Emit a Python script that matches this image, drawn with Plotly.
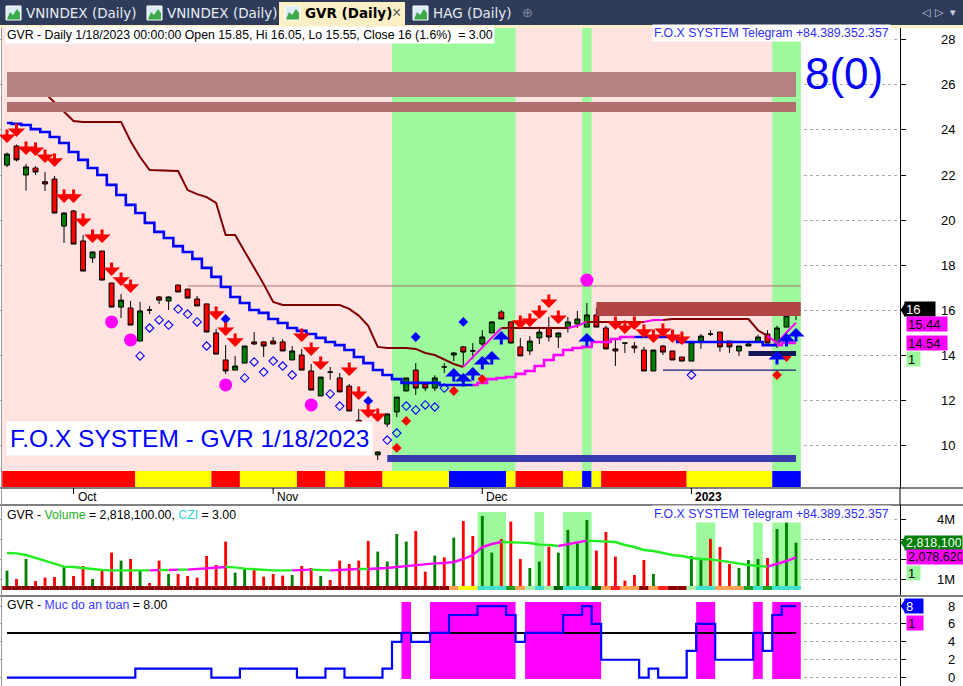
import plotly.graph_objects as go
import pandas as pd

W, H = 963, 686
FONT = "Liberation Sans, Arial, sans-serif"

# ---------------- data ----------------
dates = [d.strftime("%Y-%m-%d") for d in pd.bdate_range("2022-09-22", "2023-01-18")
         if d.strftime("%Y-%m-%d") != "2023-01-02"]
month_labels = {"2022-10": "Oct", "2022-11": "Nov", "2022-12": "Dec", "2023-01": "2023"}

opens = [22.44, 23.29, 22.0, 22.31, 21.7, 21.82, 19.73, 20.4, 19.07, 18.31,
         18.62, 17.2, 16.13, 16.09, 14.62, 16.0, 16.58, 16.4, 17.11, 16.93,
         16.49, 16.27, 14.98, 13.78, 13.33, 13.64, 14.58, 14.58, 14.62, 14.58,
         13.78, 14.0, 13.29, 12.18, 13.24, 12.98, 12.62, 11.1, 10.7, 9.56,
         10.93, 11.47, 12.4, 13.33, 12.71, 12.53, 13.47, 14.0, 14.36, 14.18,
         14.49, 14.98, 15.91, 15.47, 14.36, 14.18, 14.76, 15.2, 14.8, 15.2,
         15.38, 15.24, 15.78, 15.2, 14.27, 14.53, 14.4, 14.22, 13.29, 14.4,
         14.18, 13.91, 13.73, 14.62, 14.93, 15.02, 14.62, 14.18, 14.4, 14.58,
         14.93, 14.53, 15.24, 15.85]
highs = [23.0, 23.35, 22.49, 22.4, 22.13, 21.96, 20.35, 20.45, 19.33, 18.6,
         18.62, 17.2, 16.71, 16.4, 16.36, 16.18, 16.62, 16.6, 17.11, 16.93,
         16.62, 16.27, 15.16, 14.44, 13.96, 14.4, 15.02, 14.6, 14.8, 14.7,
         14.4, 14.27, 13.6, 13.02, 13.47, 13.2, 12.71, 11.6, 10.8, 9.72,
         11.4, 12.13, 12.98, 13.64, 12.8, 13.1, 13.64, 14.13, 14.4, 14.53,
         15.1, 15.5, 16.0, 15.47, 14.76, 14.84, 15.2, 15.69, 15.0, 15.69,
         15.96, 16.31, 16.1, 15.3, 14.76, 14.55, 14.58, 14.36, 14.22, 14.44,
         14.18, 13.91, 14.58, 14.93, 15.1, 15.02, 14.62, 14.4, 14.58, 14.9,
         15.1, 15.3, 15.9, 16.05]
lows = [22.35, 22.6, 21.3, 22.0, 21.29, 20.3, 18.98, 18.93, 17.73, 18.09,
        17.33, 16.13, 15.64, 15.33, 14.62, 15.82, 16.27, 16.0, 16.8, 16.53,
        16.18, 15.02, 14.04, 13.16, 13.33, 13.64, 14.44, 13.91, 14.49, 14.18,
        13.78, 13.33, 12.44, 12.18, 12.9, 12.36, 11.51, 10.4, 10.0, 9.33,
        10.8, 11.24, 12.4, 12.22, 12.4, 12.4, 13.2, 13.73, 13.47, 13.82,
        14.36, 14.98, 15.6, 14.53, 13.96, 14.0, 14.49, 14.6, 14.31, 15.0,
        15.2, 15.24, 15.24, 14.27, 13.51, 14.09, 14.09, 13.29, 13.29, 14.0,
        13.78, 13.73, 13.73, 14.27, 14.84, 14.15, 14.09, 13.96, 14.4, 14.53,
        14.53, 14.31, 15.24, 15.55]
closes = [22.93, 22.67, 22.36, 22.13, 21.6, 20.31, 20.31, 18.93, 17.73, 18.58,
          17.33, 16.13, 16.44, 15.33, 15.96, 16.0, 16.44, 16.58, 16.8, 16.53,
          16.18, 15.02, 14.04, 13.29, 13.51, 14.4, 14.49, 14.4, 14.49, 14.18,
          14.18, 13.33, 12.44, 13.02, 13.24, 12.36, 11.51, 10.5, 10.1, 9.69,
          11.38, 12.13, 12.98, 12.53, 12.53, 12.98, 13.47, 14.09, 14.13, 14.18,
          14.8, 15.47, 15.6, 14.53, 13.96, 14.62, 15.02, 14.8, 14.98, 15.47,
          15.6, 15.78, 15.24, 14.27, 14.18, 14.53, 14.31, 13.29, 14.22, 14.13,
          13.78, 13.73, 14.58, 14.84, 14.93, 14.36, 14.36, 14.4, 14.49, 14.8,
          14.53, 15.2, 15.75, 16.0]

# trailing line A (blue / magenta) and B (dark red / magenta)
line_a = [24.31, 24.27, 24.22, 24.04, 23.91, 23.69, 23.42, 23.02, 22.67, 22.31,
          22.0, 21.56, 21.11, 20.67, 20.31, 19.87, 19.47, 19.2, 18.84, 18.58,
          18.27, 17.87, 17.47, 17.02, 16.58, 16.31, 16.0, 15.87, 15.6, 15.42,
          15.2, 15.07, 14.93, 14.76, 14.58, 14.44, 14.22, 13.91, 13.64, 13.33,
          13.11, 12.93, 12.76, 12.76, 12.76, 12.76, 12.67, 12.67, 12.67, 12.67,
          12.76, 12.93, 12.98, 13.02, 13.16, 13.29, 13.51, 13.78, 14.0, 14.22,
          14.31, 14.36, 14.58, 14.58, 14.71, 14.8, 14.8, 14.8, 14.8, 14.8,
          14.8, 14.58, 14.58, 14.58, 14.58, 14.58, 14.58, 14.58, 14.58, 14.58,
          14.44, 14.44, 14.54, 14.54]
line_a_col = ["B"] * 50 + ["M"] * 17 + ["B"] * 15 + ["M"] * 2
line_b = [None, None, None, None, 25.64, 25.22, 24.8, 24.4, 24.36, 24.36,
          24.36, 24.36, 24.36, 23.5, 22.8, 22.22, 22.2, 22.18, 22.18, 21.33,
          21.15, 21.02, 20.76, 19.33, 19.33, 18.6, 17.9, 17.15, 16.36, 16.22,
          16.22, 16.22, 16.22, 16.22, 16.22, 16.22, 16.05, 15.75, 15.3, 14.36,
          14.31, 14.31, 14.31, 14.27, 14.09, 14.0, 13.8, 13.6, 13.47, 13.91,
          14.36, 14.76, 15.2, 15.2, 15.2, 15.2, 15.2, 15.2, 15.2, 15.2,
          15.3, 15.47, 15.47, 15.47, 15.47, 15.47, 15.47, 15.47, 15.56, 15.56,
          15.6, 15.6, 15.6, 15.6, 15.6, 15.6, 15.6, 15.6, 15.6, 15.1,
          14.85, 14.53, 15.0, 15.44]
line_b_col = (["R"] * 49 + ["M"] * 4 + ["R"] * 7 + ["M"] * 2 + ["R"] * 6 + ["M"] * 2
              + ["R"] * 11 + ["M"] * 3)

trend_state = (["R"] * 14 + ["Y"] * 8 + ["R"] * 3 + ["Y"] * 6 + ["R"] * 3 + ["Y"] * 2
               + ["R"] * 4 + ["Y"] * 7 + ["B"] * 6 + ["Y"] + ["R"] * 5 + ["Y"] * 2
               + ["B"] + ["Y"] + ["R"] * 9 + ["Y"] * 9 + ["B"] * 3)
green_zones = [(41, 53), (61, 61), (81, 83)]

sell_idx = [0, 1, 2, 3, 4, 5, 6, 7, 8, 9, 10, 11, 12, 13, 22, 23, 24, 31, 32, 33,
            36, 37, 38, 39, 54, 55, 56, 57, 58, 64, 65, 66, 67, 68, 69, 70, 71]
sell_lvl = [23.42, 23.69, 22.89, 22.84, 22.53, 22.36, 20.76, 20.76, 19.69, 18.98,
            18.98, 17.51, 17.07, 16.76, 15.56, 14.84, 14.36, 14.58, 13.96, 13.33,
            13.07, 12.0, 11.2, 11.02, 15.16, 15.24, 15.6, 16.09, 15.38, 15.11,
            14.93, 15.11, 14.76, 14.53, 14.8, 14.53, 14.44]
buy_idx = [47, 48, 49, 50, 51, 52, 61, 81, 82, 83]
buy_lvl = [13.42, 13.2, 13.47, 13.96, 14.18, 15.07, 14.98, 14.18, 14.98, 15.2]

open_dia_idx = [14, 15, 16, 17, 18, 19, 20, 21, 25, 26, 27, 28, 29, 30, 34, 35,
                40, 41, 42, 43, 44, 45, 46, 72]
open_dia_lvl = [13.96, 15.2, 15.56, 15.33, 16.04, 15.82, 15.47, 14.4, 12.98, 13.69,
                13.24, 13.73, 13.51, 13.11, 12.27, 11.73, 10.22, 10.53, 11.73, 11.56,
                11.78, 11.69, 12.53, 13.11]
blue_dia_idx = [23, 38, 43, 48]
blue_dia_lvl = [15.6, 11.96, 14.8, 15.47]
red_dia_idx = [41, 42, 47, 50, 81, 82]
red_dia_lvl = [9.87, 11.07, 12.4, 12.93, 13.11, 13.91]
dot_idx = [11, 13, 23, 32, 61]
dot_lvl = [15.47, 14.67, 12.67, 11.78, 17.33]

band_top = [(26.58, 25.47), (25.24, 24.8)]
resist_box = (62, 83.5, 15.73, 16.36)
support_bar = (78, 83, 13.96, 14.18)
support_line = (69, 83, 13.33)
base_bar = (40, 83, 9.24, 9.56)
thin_line = (19, 83.5, 17.07)

volume_m = [1.42, 1.0, 2.0, 0.9, 1.07, 1.1, 1.6, 1.15, 1.65, 1.0,
            1.5, 2.32, 1.92, 2.0, 1.45, 0.8, 1.92, 1.25, 1.25, 1.15,
            1.07, 2.15, 1.7, 2.87, 1.32, 1.5, 1.5, 1.12, 1.25, 1.17,
            1.2, 1.65, 1.55, 1.15, 0.95, 1.92, 1.75, 1.92, 2.9, 2.37,
            1.87, 3.25, 2.87, 3.4, 1.37, 2.17, 2.08, 3.07, 3.9, 3.15,
            4.15, 2.32, 3.0, 3.87, 2.0, 1.55, 1.87, 2.62, 2.32, 3.45,
            2.8, 3.95, 2.42, 3.35, 2.12, 0.92, 1.2, 1.95, 1.25, 0.5,
            0.45, 0.5, 2.15, 1.95, 3.0, 2.6, 1.75, 1.55, 1.95, 2.0,
            2.05, 3.5, 3.85, 2.8181]
vol_ma = [2.3, 2.28, 2.2, 2.05, 1.9, 1.75, 1.62, 1.6, 1.55, 1.48,
          1.45, 1.43, 1.43, 1.43, 1.43, 1.43, 1.45, 1.45, 1.47, 1.47,
          1.5, 1.52, 1.55, 1.6, 1.58, 1.52, 1.48, 1.45, 1.43, 1.43,
          1.43, 1.45, 1.47, 1.45, 1.43, 1.45, 1.47, 1.5, 1.5, 1.52,
          1.55, 1.6, 1.65, 1.7, 1.75, 1.78, 1.8, 1.85, 2.0, 2.2,
          2.6, 2.75, 2.85, 2.85, 2.82, 2.8, 2.72, 2.7, 2.65, 2.75,
          2.85, 2.92, 2.9, 2.9, 2.85, 2.7, 2.6, 2.45, 2.4, 2.3,
          2.2, 2.15, 2.05, 2.0, 1.98, 1.92, 1.85, 1.75, 1.7, 1.65,
          1.62, 1.75, 1.9, 2.07862]
vol_strip = ["D"] * 47 + ["O", "Y", "Y", "T", "T", "T", "G", "O", "L", "T", "L", "K", "T",
                          "T", "T", "K", "O", "R", "O", "O", "D", "O", "R", "D", "D", "L",
                          "T", "T", "O", "O", "O", "G", "T", "G", "T", "T", "T"]
vol_zones = [(50, 52, 4.35), (56, 56, 4.35), (59, 61, 4.35),
             (73, 74, 3.85), (79, 79, 3.85), (81, 83, 3.85)]
vol_base = 0.5

safety = ([0] * 14 + [1] * 8 + [0] * 3 + [1] * 6 + [0] * 3 + [1] * 2 + [0] * 4 + [1]
          + [4, 5, 4, 4, 5, 5, 7, 7, 7, 8, 8, 8, 7, 4, 5, 5, 5, 5, 7, 7, 8, 6, 2, 2, 2,
             2, 0, 1, 0, 0, 0, 3, 6, 6, 2, 2, 2, 2, 5, 3, 7, 8, 8])
safety_level = 5

price_ticks = list(range(10, 29, 2))
vol_ticks = [1, 2, 3, 4]
vol_tick_text = ["1M", "", "", "4M"]   # 2M / 3M are hidden behind the value labels
safety_ticks = [0, 2, 4, 6, 8]

# ---------------- helpers ----------------
N = len(dates)
xi = list(range(N))
X0, X1 = -0.736, 93.94


def X(px):
    return px / W


def Y(py):
    return 1 - py / H


PRICE_DOM = [Y(488), Y(28)]
VOL_DOM = [Y(595), Y(505)]
SAFE_DOM = [0, Y(598)]
XDOM = [0, X(900)]

fig = go.Figure()
shapes = []
ann = []

# ---------------- price panel ----------------
P_BOT, STRIP_TOP, P_TOP = 8.089, 8.844, 28.533
STRIP_BOT = 8.133
shapes.append(dict(type="rect", xref="x", yref="y", x0=-0.5, x1=N - 0.5,
                   y0=STRIP_TOP, y1=P_TOP, fillcolor="#FFE3E0", line_width=0, layer="between"))
for a, b in green_zones:
    shapes.append(dict(type="rect", xref="x", yref="y", x0=a - 0.5, x1=b + 0.5,
                       y0=STRIP_TOP, y1=P_TOP, fillcolor="#9CF99C", line_width=0, layer="between"))
tcol = {"R": "#FF0000", "Y": "#FFFF00", "B": "#0000FF"}
s = 0
for i in range(1, N + 1):
    if i == N or trend_state[i] != trend_state[s]:
        shapes.append(dict(type="rect", xref="x", yref="y", x0=s - 0.5, x1=i - 0.5,
                           y0=STRIP_BOT, y1=STRIP_TOP, fillcolor=tcol[trend_state[s]],
                           line_width=0, layer="above"))
        s = i

shapes.append(dict(type="rect", xref="x", yref="y", x0=0, x1=83, y0=band_top[0][1], y1=band_top[0][0],
                   fillcolor="#B58482", line_width=0, layer="above"))
shapes.append(dict(type="rect", xref="x", yref="y", x0=0, x1=83, y0=band_top[1][1], y1=band_top[1][0],
                   fillcolor="#B06F6F", line_width=0, layer="above"))
shapes.append(dict(type="line", xref="x", yref="y", x0=thin_line[0], x1=thin_line[1],
                   y0=thin_line[2], y1=thin_line[2], line=dict(color="#B07070", width=1), layer="between"))
shapes.append(dict(type="rect", xref="x", yref="y", x0=resist_box[0], x1=resist_box[1],
                   y0=resist_box[2], y1=resist_box[3], fillcolor="#B34444", line_width=0, layer="above"))
shapes.append(dict(type="rect", xref="x", yref="y", x0=support_bar[0], x1=support_bar[1],
                   y0=support_bar[2], y1=support_bar[3], fillcolor="#14145A", line_width=0, layer="above"))
shapes.append(dict(type="line", xref="x", yref="y", x0=support_line[0], x1=support_line[1],
                   y0=support_line[2], y1=support_line[2], line=dict(color="#1A1A80", width=1.2)))
shapes.append(dict(type="rect", xref="x", yref="y", x0=base_bar[0], x1=base_bar[1],
                   y0=base_bar[2], y1=base_bar[3], fillcolor="#3A3AB0", line_width=0, layer="above"))


def seg_lines(vals, cols, cmap, xa, ya, width, shape):
    idx = [i for i in range(N) if vals[i] is not None]
    first = idx[0]
    s = first
    for i in range(first + 1, N + 1):
        if i == N or cols[i] != cols[s]:
            a = max(s - 1, first)
            xs = list(range(a, i))
            fig.add_trace(go.Scatter(x=xs, y=[vals[k] for k in xs], mode="lines",
                                     line=dict(color=cmap[cols[s]], width=width, shape=shape),
                                     xaxis=xa, yaxis=ya, hoverinfo="skip", showlegend=False))
            s = i


seg_lines(line_b, line_b_col, {"R": "#800000", "M": "#FF00FF"}, "x", "y", 2, "linear")
seg_lines(line_a, line_a_col, {"B": "#0000FF", "M": "#FF00FF"}, "x", "y", 2.6, "hvh")

fig.add_trace(go.Candlestick(
    x=xi, open=opens, high=highs, low=lows, close=closes, xaxis="x", yaxis="y",
    increasing=dict(fillcolor="#008000", line=dict(color="#000000", width=1)),
    decreasing=dict(fillcolor="#FF0000", line=dict(color="#000000", width=1)),
    whiskerwidth=0, showlegend=False, hoverinfo="skip"))

fig.add_trace(go.Scatter(x=open_dia_idx, y=open_dia_lvl, mode="markers", xaxis="x", yaxis="y",
                         marker=dict(symbol="diamond-open", size=6.5, color="#0000FF", line=dict(width=1.1)),
                         showlegend=False, hoverinfo="skip"))
fig.add_trace(go.Scatter(x=blue_dia_idx, y=blue_dia_lvl, mode="markers", xaxis="x", yaxis="y",
                         marker=dict(symbol="diamond", size=7.5, color="#0000FF"),
                         showlegend=False, hoverinfo="skip"))
fig.add_trace(go.Scatter(x=red_dia_idx, y=red_dia_lvl, mode="markers", xaxis="x", yaxis="y",
                         marker=dict(symbol="diamond", size=7.5, color="#FF0000"),
                         showlegend=False, hoverinfo="skip"))
fig.add_trace(go.Scatter(x=dot_idx, y=dot_lvl, mode="markers", xaxis="x", yaxis="y",
                         marker=dict(symbol="circle", size=13, color="#FF00FF"),
                         showlegend=False, hoverinfo="skip"))

for i, lv in zip(sell_idx, sell_lvl):
    ann.append(dict(x=i, y=lv, xref="x", yref="y", ax=0, ay=-15, text="", showarrow=True,
                    arrowhead=1, arrowsize=0.95, arrowwidth=3, arrowcolor="#FF0000"))
for i, lv in zip(buy_idx, buy_lvl):
    ann.append(dict(x=i, y=lv, xref="x", yref="y", ax=0, ay=15, text="", showarrow=True,
                    arrowhead=1, arrowsize=0.95, arrowwidth=3, arrowcolor="#0000FF"))

# ---------------- volume panel ----------------
shapes.append(dict(type="rect", xref="x2", yref="y2", x0=-0.5, x1=N - 0.5, y0=0.2, y1=4.7,
                   fillcolor="white", line_width=0, layer="between"))
for a, b, top in vol_zones:
    shapes.append(dict(type="rect", xref="x2", yref="y2", x0=a - 0.5, x1=b + 0.5, y0=0.45, y1=top,
                       fillcolor="#9CF99C", line_width=0, layer="between"))
vcols = ["#008000" if c > o else "#FF0000" for o, c in zip(opens, closes)]
fig.add_trace(go.Bar(x=xi, y=[v - vol_base for v in volume_m], base=vol_base, width=0.3,
                     marker=dict(color=vcols, line_width=0), xaxis="x2", yaxis="y2",
                     showlegend=False, hoverinfo="skip"))
ma_cols = ["G"] + ["M" if vol_ma[i] > vol_ma[i - 1] else "G" for i in range(1, N)]
seg_lines(vol_ma, ma_cols, {"G": "#22EE22", "M": "#FF00FF"}, "x2", "y2", 2.4, "linear")
vsc = {"D": "#8B0000", "O": "#FFA050", "Y": "#FFFF00", "T": "#40E0D0", "G": "#22A022",
       "L": "#A8F0A8", "K": "#006400", "R": "#FF2020"}
for i in range(N):
    shapes.append(dict(type="rect", xref="x2", yref="y2", x0=i - 0.5, x1=i + 0.5, y0=0.45, y1=0.65,
                       fillcolor=vsc[vol_strip[i]], line_width=0, layer="above"))

# ---------------- safety panel ----------------
shapes.append(dict(type="rect", xref="x3", yref="y3", x0=-0.5, x1=N - 0.5, y0=-0.93, y1=8.9,
                   fillcolor="white", line_width=0, layer="between"))
s = None
for i in range(N + 1):
    on = i < N and safety[i] >= safety_level
    if on and s is None:
        s = i
    if not on and s is not None:
        shapes.append(dict(type="rect", xref="x3", yref="y3", x0=s - 0.5, x1=i - 0.5, y0=-0.15, y1=8.46,
                           fillcolor="#FF00FF", line_width=0, layer="between"))
        s = None
fig.add_trace(go.Scatter(x=[0, N - 1], y=[safety_level, safety_level], mode="lines",
                         line=dict(color="black", width=2), xaxis="x3", yaxis="y3",
                         showlegend=False, hoverinfo="skip"))
fig.add_trace(go.Scatter(x=xi, y=safety, mode="lines", line=dict(color="#0000FF", width=2.2, shape="hvh"),
                         xaxis="x3", yaxis="y3", showlegend=False, hoverinfo="skip"))

# ---------------- frame / separators ----------------
for py in (488, 505, 596):
    shapes.append(dict(type="line", xref="paper", yref="paper", x0=0, x1=1, y0=Y(py), y1=Y(py),
                       line=dict(color="black", width=1.2)))
shapes.append(dict(type="line", xref="paper", yref="paper", x0=X(900), x1=X(900), y0=Y(488), y1=Y(505),
                   line=dict(color="black", width=1)))
shapes.append(dict(type="line", xref="paper", yref="paper", x0=X(1.5), x1=X(1.5), y0=0, y1=Y(28),
                   line=dict(color="#9A9A9A", width=1)))

seen = set()
for i, d in enumerate(dates):
    m = d[:7]
    if m in month_labels and m not in seen:
        seen.add(m)
        shapes.append(dict(type="line", xref="x", yref="paper", x0=i, x1=i, y0=Y(488), y1=Y(494),
                           line=dict(color="black", width=1)))
        lab = month_labels[m]
        if lab.isdigit():
            lab = "<b>" + lab + "</b>"
        ann.append(dict(x=i, y=Y(497), xref="x", yref="paper", text=lab, showarrow=False,
                        xanchor="left", yanchor="middle", xshift=2,
                        font=dict(family=FONT, size=12, color="black")))

# axis tick labels (right aligned)
for v in price_ticks:
    ann.append(dict(x=X(957), y=v, xref="paper", yref="y", text=str(v), showarrow=False,
                    xanchor="right", yanchor="middle", font=dict(family=FONT, size=13, color="black")))
for v, t in zip(vol_ticks, vol_tick_text):
    if t:
        ann.append(dict(x=X(957), y=v, xref="paper", yref="y2", text=t, showarrow=False,
                        xanchor="right", yanchor="middle", font=dict(family=FONT, size=13, color="black")))
for v in safety_ticks:
    ann.append(dict(x=X(957), y=v, xref="paper", yref="y3", text=str(v), showarrow=False,
                    xanchor="right", yanchor="middle", font=dict(family=FONT, size=13, color="black")))

# ---------------- tab bar ----------------
shapes.append(dict(type="rect", xref="paper", yref="paper", x0=0, x1=1, y0=Y(25), y1=1,
                   fillcolor="#2E3C5A", line_width=0))
shapes.append(dict(type="rect", xref="paper", yref="paper", x0=0, x1=1, y0=Y(28), y1=Y(25),
                   fillcolor="#FCEFC6", line_width=0))
shapes.append(dict(type="rect", xref="paper", yref="paper", x0=X(279), x1=X(405), y0=Y(27), y1=Y(2),
                   fillcolor="#FCEFC6", line_width=0))


def ppath(pts):
    return "M " + " L ".join(f"{X(a):.5f},{Y(b):.5f}" for a, b in pts) + " Z"


tabs = [(6, "VNINDEX (Daily)", False), (147, "VNINDEX (Daily)", False),
        (285, "GVR (Daily)", True), (413, "HAG (Daily)", False)]
for x0, label, active in tabs:
    shapes.append(dict(type="rect", xref="paper", yref="paper", x0=X(x0), x1=X(x0 + 15),
                       y0=Y(20), y1=Y(6), fillcolor="#DCEAF6", line=dict(color="#FFFFFF", width=1)))
    shapes.append(dict(type="path", xref="paper", yref="paper",
                       path=ppath([(x0 + 1, 19.5), (x0 + 4, 12), (x0 + 7, 15), (x0 + 11, 9),
                                   (x0 + 14, 13), (x0 + 14, 19.5)]),
                       fillcolor="#3DAA48", line_width=0))
    ann.append(dict(x=X(x0 + 18), y=Y(13.5), xref="paper", yref="paper",
                    text=("<b>" + label + "</b>") if active else label, showarrow=False,
                    xanchor="left", yanchor="middle",
                    font=dict(family="DejaVu Sans, sans-serif", size=13.5,
                              color="#000000" if active else "#E8ECF4")))
ann.append(dict(x=X(396), y=Y(12.5), xref="paper", yref="paper", text="×", showarrow=False,
                xanchor="center", yanchor="middle", font=dict(family=FONT, size=16, color="#606060")))
ann.append(dict(x=X(527), y=Y(12.5), xref="paper", yref="paper", text="⊕", showarrow=False,
                xanchor="center", yanchor="middle", font=dict(family="DejaVu Sans", size=13, color="#7E889C")))
for px, t in ((926, "◁"), (939, "▷"), (953, "▾")):
    ann.append(dict(x=X(px), y=Y(12.5), xref="paper", yref="paper", text=t, showarrow=False,
                    xanchor="center", yanchor="middle",
                    font=dict(family="DejaVu Sans", size=11, color="#C8D0E0")))

# ---------------- titles ----------------
last = N - 1
chg = (closes[last] / closes[last - 1] - 1) * 100
ts = pd.Timestamp(dates[last])
title = (f"GVR - Daily {ts.month}/{ts.day}/{ts.year} 00:00:00 Open {opens[last]:g}, Hi {highs[last]:g}, "
         f"Lo {lows[last]:g}, Close {closes[last]:g} ({chg:.1f}%)\u00a0\u00a0= 3.00")
ann.append(dict(x=X(5), y=Y(34.5), xref="paper", yref="paper", text=title, showarrow=False,
                xanchor="left", yanchor="middle", bgcolor="white", borderpad=1,
                font=dict(family=FONT, size=12.3, color="black")))
tele = "F.O.X SYSTEM Telegram +84.389.352.357"
for py in (33.5, 514):
    ann.append(dict(x=X(652), y=Y(py), xref="paper", yref="paper", text=tele, showarrow=False,
                    xanchor="left", yanchor="middle", bgcolor="white", borderpad=1,
                    font=dict(family=FONT, size=12.3, color="#2F2FF5")))
ann.append(dict(x=X(844), y=Y(73), xref="paper", yref="paper", text="8(0)", showarrow=False,
                xanchor="center", yanchor="middle", font=dict(family=FONT, size=44, color="#0000FF")))
ann.append(dict(x=X(6), y=Y(438), xref="paper", yref="paper",
                text="F.O.X SYSTEM - GVR %d/%d/%d" % (ts.month, ts.day, ts.year), showarrow=False,
                xanchor="left", yanchor="middle", bgcolor="white", borderpad=3,
                font=dict(family=FONT, size=24.5, color="#0000FF")))
ann.append(dict(x=X(5), y=Y(514.5), xref="paper", yref="paper",
                text=("GVR - <span style='color:#1FAF1F'>Volume</span> = %s, "
                      "<span style='color:#2FD3D3'>CZI</span> = 3.00") % f"{volume_m[last] * 1e6:,.2f}",
                showarrow=False, xanchor="left", yanchor="middle",
                font=dict(family=FONT, size=12.3, color="black")))
ann.append(dict(x=X(5), y=Y(605), xref="paper", yref="paper",
                text="GVR - <span style='color:#3A3AFF'>Muc do an toan</span> = %.2f" % safety[last],
                showarrow=False, xanchor="left", yanchor="middle",
                font=dict(family=FONT, size=12.3, color="black")))


# ---------------- right-side value labels ----------------
def value_label(yref, yval, text, bg, fg, x0px, wpx, yshift=0, pointer=False, span=None, size=13):
    ann.append(dict(x=X(x0px), y=yval, xref="paper", yref=yref, text=text, showarrow=False,
                    xanchor="left", yanchor="middle", yshift=yshift, bgcolor=bg, width=wpx,
                    height=12, align="left", borderpad=1,
                    font=dict(family=FONT, size=size, color=fg)))
    if pointer:
        shapes.append(dict(type="path", xref="paper", yref=yref,
                           path=f"M {X(900.5)},{yval} L {X(905)},{yval + span} "
                                f"L {X(905)},{yval - span} Z",
                           fillcolor=bg, line_width=0))


value_label("y", closes[last], f"{closes[last]:g}", "#000000", "#FFFFFF", 904, 28, yshift=1,
            pointer=True, span=0.31)
value_label("y", line_b[last], f"{line_b[last]:.2f}", "#FF00FF", "#000000", 906, 38, yshift=-1.5)
value_label("y", line_a[last], f"{line_a[last]:.2f}", "#FF00FF", "#000000", 906, 38)
value_label("y", line_a[last], "1", "#9CF99C", "#000000", 906, 11, yshift=-16)
value_label("y2", volume_m[last], f"{volume_m[last] * 1e6:,.0f}", "#008000", "#FFFFFF", 904, 55,
            pointer=True, span=0.31, size=12.5)
value_label("y2", vol_ma[last], f"{vol_ma[last] * 1e6:,.0f}", "#FF00FF", "#000000", 906, 54, size=12.5)
value_label("y2", vol_ma[last], "1", "#9CF99C", "#000000", 906, 11, yshift=-16)
value_label("y3", safety[last], f"{safety[last]}", "#0000FF", "#FFFFFF", 904, 16, pointer=True, span=0.7)
value_label("y3", safety[last], "1", "#FF00FF", "#000000", 906, 14, yshift=-17)

# ---------------- axes ----------------
xcommon = dict(range=[X0, X1], domain=XDOM, showticklabels=False, showgrid=False, zeroline=False,
               fixedrange=True, showline=False, ticks="")
ycommon = dict(side="right", showline=True, linecolor="black", linewidth=1, ticks="outside",
               ticklen=5, tickcolor="black", showgrid=True, gridcolor="#A8A8A8", griddash="dot",
               gridwidth=1, zeroline=False, fixedrange=True, showticklabels=False)
fig.update_layout(
    width=W, height=H, margin=dict(l=0, r=0, t=0, b=0, autoexpand=False),
    paper_bgcolor="white", plot_bgcolor="white", showlegend=False, boxgap=0.26,
    xaxis=dict(**xcommon, anchor="y", rangeslider=dict(visible=False)),
    xaxis2=dict(**xcommon, anchor="y2"),
    xaxis3=dict(**xcommon, anchor="y3"),
    yaxis=dict(**ycommon, domain=PRICE_DOM, range=[P_BOT, P_TOP], anchor="x", tickvals=price_ticks),
    yaxis2=dict(**ycommon, domain=VOL_DOM, range=[0.2, 4.7], anchor="x2", tickvals=vol_ticks),
    yaxis3=dict(**ycommon, domain=SAFE_DOM, range=[-0.93, 8.9], anchor="x3", tickvals=safety_ticks),
    shapes=shapes, annotations=ann,
)

fig.write_html("out.html", config={"displayModeBar": False},
               post_script="document.body.style.margin='0';document.body.style.overflow='hidden';")
